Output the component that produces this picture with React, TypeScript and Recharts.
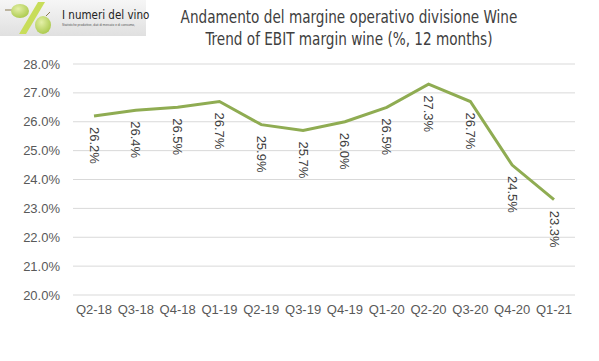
import { LineChart, Line, XAxis, YAxis, CartesianGrid, LabelList } from 'recharts'

const quarters = ['Q2-18', 'Q3-18', 'Q4-18', 'Q1-19', 'Q2-19', 'Q3-19', 'Q4-19', 'Q1-20', 'Q2-20', 'Q3-20', 'Q4-20', 'Q1-21']
const ebitMargin = [26.2, 26.4, 26.5, 26.7, 25.9, 25.7, 26.0, 26.5, 27.3, 26.7, 24.5, 23.3]
const yTicks = [20, 21, 22, 23, 24, 25, 26, 27, 28]

const data = quarters.map((q, i) => ({ q, v: ebitMargin[i] }))

const AXIS_FONT = '"Liberation Sans", Arial, sans-serif'
const TITLE_FONT = '"Liberation Sans Narrow", "DejaVu Sans Condensed", "Liberation Sans", sans-serif'

// rotated value label under each point
function VertLabel(props: any) {
  const { x, y, value } = props
  const ty = y + 11
  return (
    <text
      x={x}
      y={ty}
      transform={`rotate(90, ${x}, ${ty})`}
      textAnchor="start"
      dominantBaseline="central"
      fontSize={13}
      fontFamily={AXIS_FONT}
      fill="#404040"
    >
      {`${value.toFixed(1)}%`}
    </text>
  )
}

function Logo() {
  return (
    <svg width={150} height={36} style={{ position: 'absolute', left: 0, top: 0 }}>
      <defs>
        <linearGradient id="lg" x1="0" y1="0" x2="0" y2="1">
          <stop offset="0%" stopColor="#f6f6f6" />
          <stop offset="100%" stopColor="#e0e0e0" />
        </linearGradient>
        <radialGradient id="grape" cx="0.4" cy="0.35" r="0.7">
          <stop offset="0%" stopColor="#e4f0a8" />
          <stop offset="100%" stopColor="#a9c84a" />
        </radialGradient>
      </defs>
      <rect x={0} y={0} width={146} height={36} fill="url(#lg)" />
      <polygon points="38,2 45,2 26,34 19,34" fill="#c8dd5a" />
      <line x1={5} y1={10} x2={12} y2={10} stroke="#8a7a50" strokeWidth={1} />
      <ellipse cx={20} cy={11} rx={9} ry={7} fill="url(#grape)" />
      <line x1={46} y1={16} x2={50} y2={12} stroke="#8a7a50" strokeWidth={1} />
      <ellipse cx={43} cy={25} rx={8} ry={9} fill="url(#grape)" />
      <text x={62} y={19} fontSize={11.5} fontFamily={TITLE_FONT} fill="#222">I numeri del vino</text>
      <text x={62} y={26} fontSize={3.2} fontFamily={AXIS_FONT} fill="#555">Statistiche produttive, dati di mercato e di consumo,</text>
    </svg>
  )
}

export default function App() {
  return (
    <div style={{ position: 'absolute', left: 0, top: 0, width: 599, height: 361, background: '#fff' }}>
      <Logo />
      <div
        style={{
          position: 'absolute', left: 49, width: 600, top: 6, textAlign: 'center',
          fontFamily: TITLE_FONT, fontSize: 17, lineHeight: '22px', color: '#404040',
          transform: 'scaleX(0.89)', transformOrigin: '300px 0',
          whiteSpace: 'nowrap',
        }}
      >
        <div>Andamento del margine operativo divisione Wine</div>
        <div>Trend of EBIT margin wine (%, 12 months)</div>
      </div>
      <LineChart
        width={599}
        height={361}
        data={data}
        margin={{ top: 64, right: 24, left: 0, bottom: 36 }}
      >
        <CartesianGrid vertical={false} stroke="#d9d9d9" />
        <XAxis
          dataKey="q"
          axisLine={false}
          tickLine={false}
          tickSize={0}
          tickMargin={10}
          interval={0}
          height={30}
          padding={{ left: 21, right: 21 }}
          tick={{ fontSize: 13, fill: '#595959', fontFamily: AXIS_FONT }}
        />
        <YAxis
          domain={[20, 28]}
          ticks={yTicks}
          axisLine={false}
          tickLine={false}
          tickSize={0}
          tickMargin={13}
          width={73}
          tickFormatter={(v: number) => `${v.toFixed(1)}%`}
          tick={{ fontSize: 13, fill: '#595959', fontFamily: AXIS_FONT }}
        />
        <Line
          type="linear"
          dataKey="v"
          stroke="#8fac52"
          strokeWidth={3}
          dot={false}
          activeDot={false}
          isAnimationActive={false}
        >
          <LabelList dataKey="v" content={<VertLabel />} />
        </Line>
      </LineChart>
    </div>
  )
}
